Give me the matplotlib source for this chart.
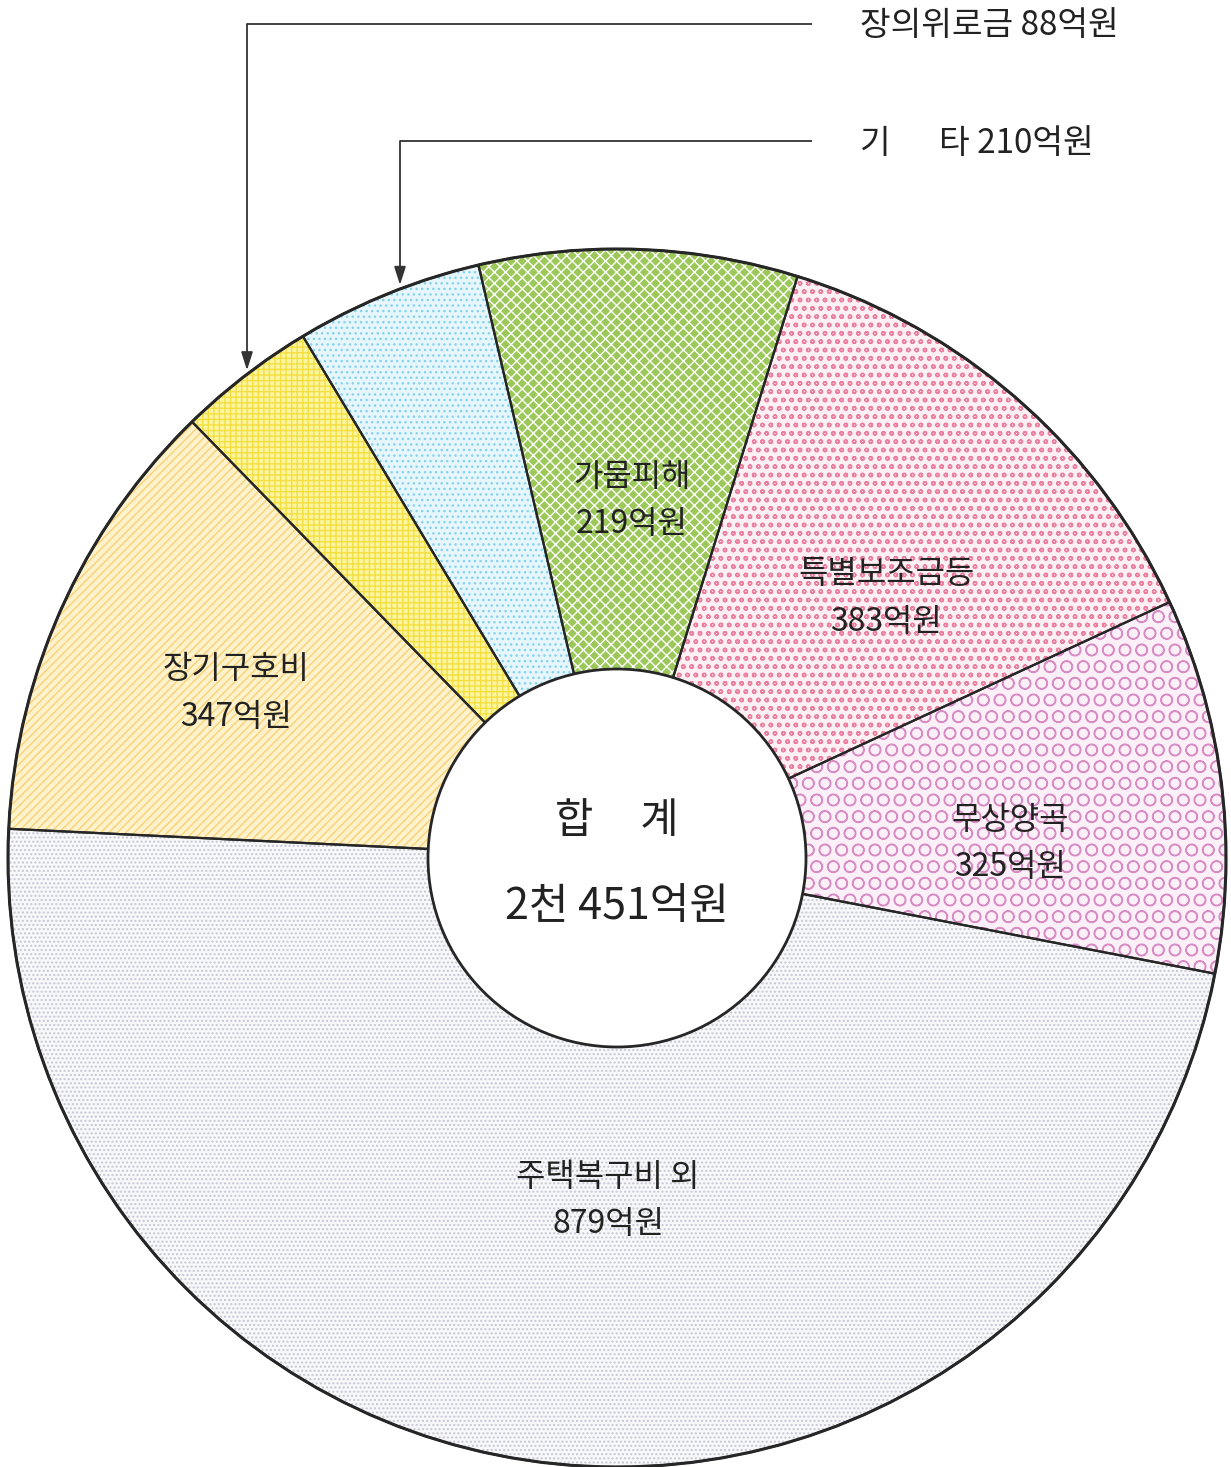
import numpy as np
import matplotlib.pyplot as plt
from matplotlib.patches import Circle

plt.rcParams['font.family'] = ['Noto Sans CJK KR', 'DejaVu Sans']
plt.rcParams['hatch.linewidth'] = 1.0

# ---- 데이터 (오른쪽 아래 경계에서 시작해 반시계 방향) ----
names = ['무상양곡', '특별보조금등', '가뭄피해', '기\u3000  타', '장의위로금', '장기구호비', '주택복구비 외']
amounts = [325, 383, 219, 210, 88, 347, 879]            # 억원
# 그림에서 잰 조각 각도(도) - 원본 그림은 금액에 비례하지 않음
slice_deg = [35.8, 47.9, 30.4, 17.9, 13.2, 43.0, 171.8]
start_deg = -10.95
total_title = '합     계'
total_text = '2천 451억원'

faces = ['#fcf0f8', '#fdf0f4', '#9cc85a', '#e6f6fb', '#fbf4a0', '#fef2cc', '#f8f8fa']
hatch_cols = ['#d88cc4', '#ea7e9c', '#ffffff', '#86d3ee', '#f3e040', '#f8d275', '#c4c8d4']
hatches = ['O', 'oo', 'xxx', '...', '+++', '////', '....']

# ---- 배치 (픽셀 기준) ----
W, H = 1231, 1467
cx, cy, R, r_in = 617, H - 858, 609, 189
txt = '#222222'

fig = plt.figure(figsize=(W / 100, H / 100), dpi=100)
ax = fig.add_axes([0, 0, 1, 1])

wedges, _ = ax.pie(slice_deg, startangle=start_deg, counterclock=True, radius=R,
                   center=(cx, cy), colors=faces, hatch=hatches,
                   wedgeprops=dict(linewidth=0))
for w, hc in zip(wedges, hatch_cols):
    w.set_edgecolor(hc)      # 해치 색
    w.set_linewidth(0)

# 경계선
ax.pie(slice_deg, startangle=start_deg, counterclock=True, radius=R, center=(cx, cy),
       colors=['none'] * len(slice_deg),
       wedgeprops=dict(fill=False, edgecolor='#262626', linewidth=1.6))
ax.add_patch(Circle((cx, cy), R, fill=False, edgecolor='#262626', linewidth=2.2, zorder=5))
ax.add_patch(Circle((cx, cy), r_in, facecolor='white', edgecolor='#262626', linewidth=2.0, zorder=6))

ax.set_xlim(0, W)
ax.set_ylim(0, H)
ax.set_aspect('equal')
ax.axis('off')

# ---- 조각 안 라벨 ----
label_pos = {0: (1010, 820, 867), 1: (886, 574, 622), 2: (632, 477, 524),
             5: (236, 669, 717), 6: (608, 1177, 1224)}
for i, (x, y1, y2) in label_pos.items():
    ax.text(x, H - y1, names[i], fontsize=23, color=txt, ha='center', va='center', zorder=7)
    ax.text(x, H - y2, f'{amounts[i]}억원', fontsize=23, color=txt, ha='center', va='center', zorder=7)

# 가운데 합계
ax.text(cx, H - 822, total_title, fontsize=30, color=txt, ha='center', va='center', zorder=7)
ax.text(cx, H - 907, total_text, fontsize=31, color=txt, ha='center', va='center', zorder=7)

# ---- 바깥 라벨 + 지시선 ----
leaders = {4: (247, 24), 3: (400, 141)}
for i, (lx, ly) in leaders.items():
    ax.plot([812, lx], [H - ly, H - ly], color='#333333', lw=1.3, solid_capstyle='butt')
    tip_y = cy + np.sqrt(R ** 2 - (lx - cx) ** 2) + 4
    ax.annotate('', xy=(lx, tip_y), xytext=(lx, H - ly),
                arrowprops=dict(arrowstyle='-|>,head_length=1.1,head_width=0.35',
                                color='#333333', lw=1.3, shrinkA=0, shrinkB=0))
    ax.text(860, H - ly - 2, f'{names[i]} {amounts[i]}억원', fontsize=24, color=txt,
            ha='left', va='center')

fig.savefig('out.png', dpi=100)
